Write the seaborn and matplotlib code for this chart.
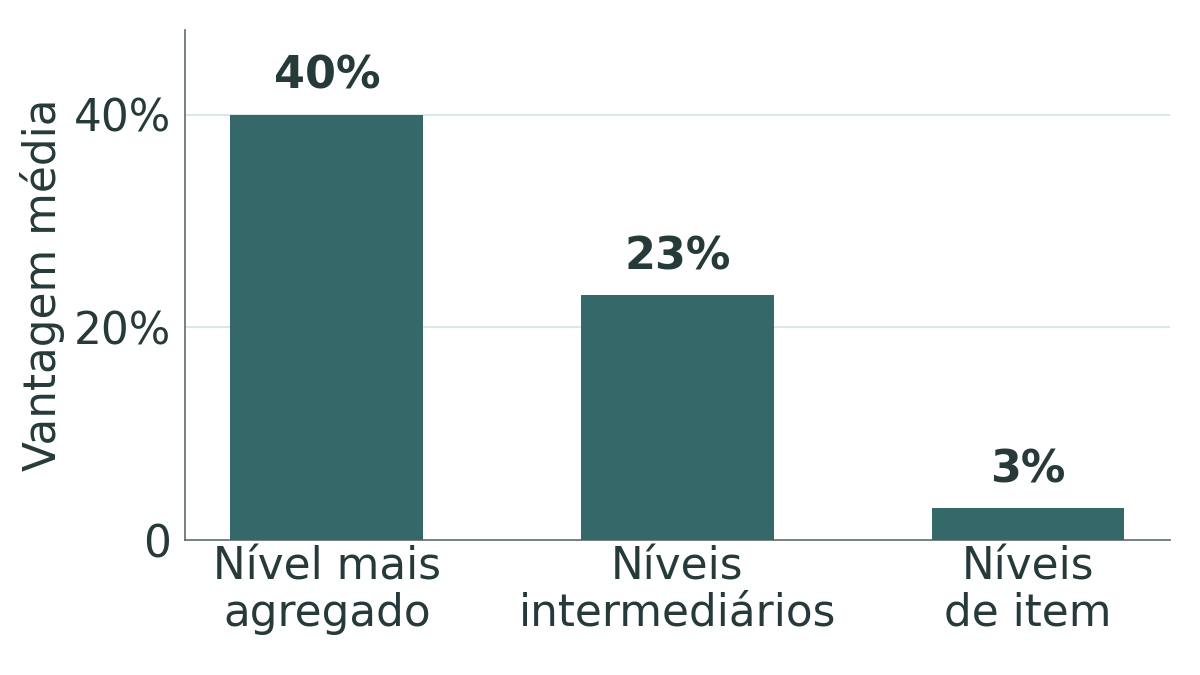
import matplotlib
matplotlib.use("Agg")
import matplotlib.pyplot as plt
import seaborn as sns

sns.set_style("white")
plt.rcParams["font.family"] = ["DejaVu Sans"]

categorias = ["Nível mais\nagregado", "Níveis\nintermediários", "Níveis\nde item"]
vantagem = [40, 23, 3]
rotulos = ["40%", "23%", "3%"]
y_ticks = [0, 20, 40]
y_ticklabels = ["0", "20%", "40%"]

COR_BARRA = "#356868"
COR_TEXTO = "#263a3a"
COR_EIXO = "#5f6b6b"
COR_GRADE = "#dbe8e8"

fig = plt.figure(figsize=(12, 6.75), dpi=100)
ax = fig.add_axes([0.154, 0.2, 0.821, 0.756])

sns.barplot(x=categorias, y=vantagem, color=COR_BARRA, saturation=1,
            width=0.55, ax=ax, zorder=3, linewidth=0, edgecolor="none")

for i, (v, lab) in enumerate(zip(vantagem, rotulos)):
    ax.text(i, v + 1.6, lab, ha="center", va="bottom", fontsize=32,
            fontweight="bold", color=COR_TEXTO)

ax.set_ylim(0, 48)
ax.set_xlim(-0.405, 2.405)
ax.set_yticks(y_ticks)
ax.set_yticklabels(y_ticklabels)
ax.set_ylabel("Vantagem média", fontsize=31.5, color=COR_TEXTO, labelpad=6)
ax.set_xlabel("")

for y in y_ticks[1:]:
    ax.axhline(y, color=COR_GRADE, linewidth=1.5, zorder=0)

ax.tick_params(axis="y", labelsize=31.5, colors=COR_TEXTO, length=6,
               width=1.2, color=COR_EIXO, pad=4)
ax.tick_params(axis="x", labelsize=31.5, colors=COR_TEXTO, length=0, pad=4)
for lab in ax.get_xticklabels():
    lab.set_linespacing(1.1)

sns.despine(ax=ax)
for side in ["left", "bottom"]:
    ax.spines[side].set_color(COR_EIXO)
    ax.spines[side].set_linewidth(1.2)

fig.savefig("out.png", dpi=100)
